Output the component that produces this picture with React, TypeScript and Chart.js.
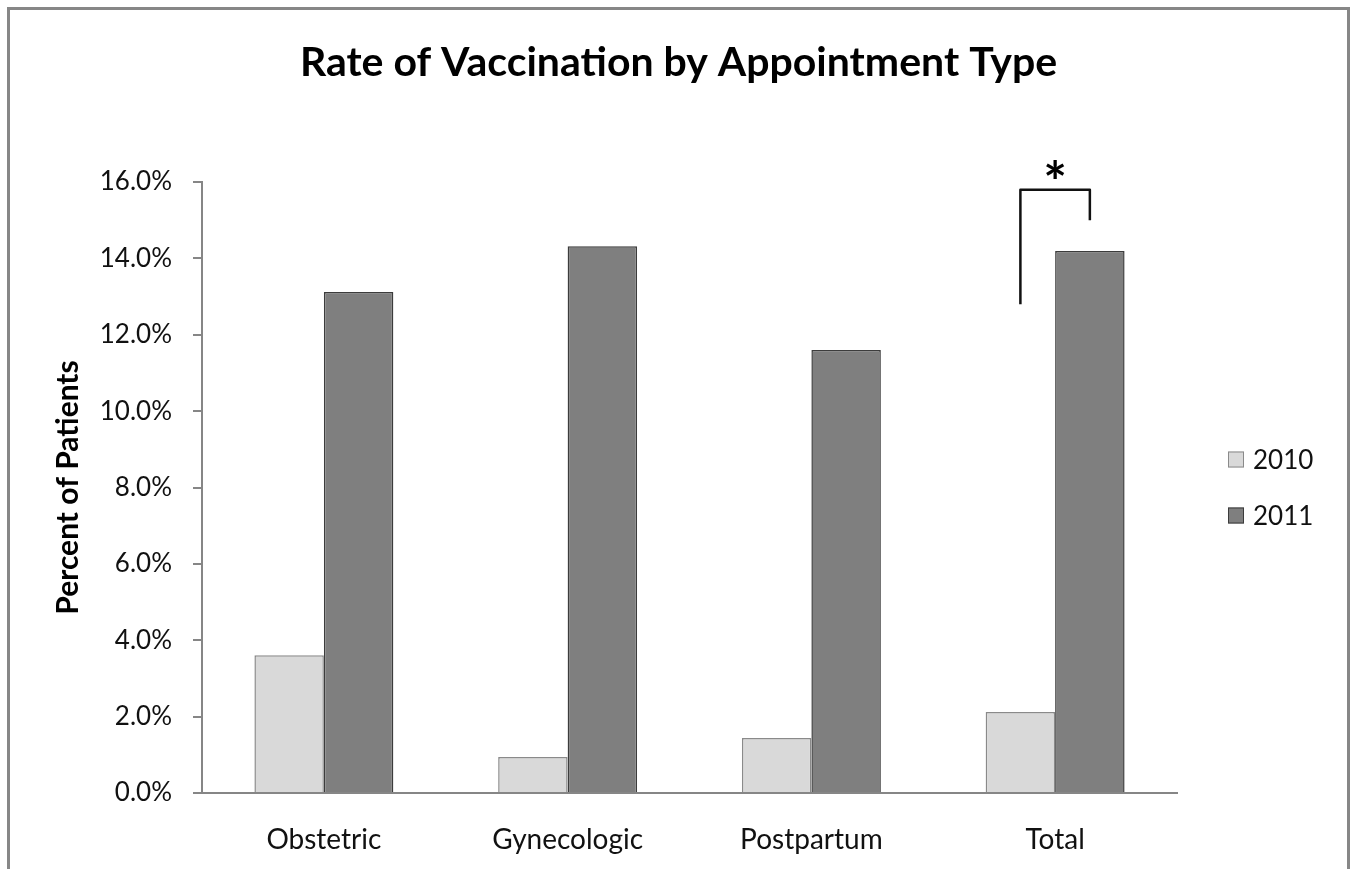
import React, { useEffect, useRef } from "react";
import { Chart, registerables } from "chart.js";

Chart.register(...registerables);

const categories = ["Obstetric", "Gynecologic", "Postpartum", "Total"];
const series2010 = [0.0361, 0.0094, 0.0144, 0.0212];
const series2011 = [0.1312, 0.1432, 0.116, 0.1419];
const seriesLabels = ["2010", "2011"];
const chartTitle = "Rate of Vaccination by Appointment Type";
const yAxisTitle = "Percent of Patients";
// significance bracket over "Total": [top, left end, right end] in axis units
const bracketCategoryIndex = 3;
const bracketLevels = [0.158, 0.128, 0.15];
const bracketMark = "*";

const FONT = "Lato, 'Open Sans', sans-serif";

const fill2010 = "#d9d9d9";
const border2010 = "#8a8a8a";
const fill2011 = "#7f7f7f";
const border2011 = "#3c3c3c";

const overlayPlugin = {
  id: "overlay",
  afterDraw(chart: any) {
    const { ctx, chartArea, scales, width } = chart;
    const y = scales.y;

    // title (centred on the whole canvas)
    ctx.save();
    ctx.fillStyle = "#000";
    ctx.font = `bold 41px ${FONT}`;
    ctx.textAlign = "center";
    ctx.textBaseline = "middle";
    ctx.fillText(chartTitle, width / 2, 53);
    ctx.restore();

    // bracket
    const m0 = chart.getDatasetMeta(0).data[bracketCategoryIndex];
    const m1 = chart.getDatasetMeta(1).data[bracketCategoryIndex];
    const x1 = m0.x;
    const x2 = m1.x;
    const yTop = y.getPixelForValue(bracketLevels[0]);
    const yL = y.getPixelForValue(bracketLevels[1]);
    const yR = y.getPixelForValue(bracketLevels[2]);
    ctx.save();
    ctx.strokeStyle = "#111";
    ctx.lineWidth = 2.5;
    ctx.lineJoin = "round";
    ctx.beginPath();
    ctx.moveTo(x1, yL);
    ctx.lineTo(x1, yTop);
    ctx.lineTo(x2, yTop);
    ctx.lineTo(x2, yR);
    ctx.stroke();
    ctx.fillStyle = "#000";
    ctx.font = `bold 56px ${FONT}`;
    ctx.textAlign = "center";
    ctx.textBaseline = "alphabetic";
    ctx.fillText(bracketMark, (x1 + x2) / 2, yTop + 12);
    ctx.restore();

    // legend
    const cx = chartArea.right + 51;
    const cy = (chartArea.top + chartArea.bottom) / 2;
    const items = [
      { label: seriesLabels[0], fill: fill2010, stroke: border2010 },
      { label: seriesLabels[1], fill: fill2011, stroke: border2011 },
    ];
    ctx.save();
    ctx.font = `26px ${FONT}`;
    ctx.textBaseline = "middle";
    ctx.textAlign = "left";
    items.forEach((it, i) => {
      const yy = cy - 28 + i * 56;
      ctx.fillStyle = it.fill;
      ctx.fillRect(cx, yy - 8, 16, 16);
      ctx.strokeStyle = it.stroke;
      ctx.lineWidth = 1;
      ctx.strokeRect(cx + 0.5, yy - 7.5, 15, 15);
      ctx.fillStyle = "#111";
      ctx.fillText(it.label, cx + 25, yy + 1);
    });
    ctx.restore();
  },
};

export default function App() {
  const ref = useRef<HTMLCanvasElement | null>(null);
  useEffect(() => {
    if (!ref.current) return;
    const chart = new Chart(ref.current, {
      type: "bar",
      data: {
        labels: categories,
        datasets: [
          {
            label: seriesLabels[0],
            data: series2010,
            backgroundColor: fill2010,
            borderColor: border2010,
            borderWidth: 1.5,
            categoryPercentage: 0.57,
            barPercentage: 1,
          },
          {
            label: seriesLabels[1],
            data: series2011,
            backgroundColor: fill2011,
            borderColor: border2011,
            borderWidth: 1.5,
            categoryPercentage: 0.57,
            barPercentage: 1,
          },
        ],
      },
      options: {
        responsive: false,
        animation: false,
        devicePixelRatio: 1,
        layout: { padding: { left: 0, right: 170, top: 172, bottom: 0 } },
        plugins: {
          legend: { display: false },
          tooltip: { enabled: false },
          title: { display: false },
        },
        scales: {
          x: {
            grid: { display: false },
            border: { display: true, color: "#868686", width: 2 },
            ticks: {
              color: "#111",
              font: { family: FONT, size: 28 },
              padding: 22,
            },
            afterFit(scale: any) {
              scale.height = 77;
            },
          },
          y: {
            min: 0,
            max: 0.16,
            grid: {
              display: true,
              drawOnChartArea: false,
              drawTicks: true,
              tickLength: 9,
              color: "#868686",
              lineWidth: 2,
            },
            border: { display: true, color: "#868686", width: 2 },
            ticks: {
              stepSize: 0.02,
              color: "#111",
              font: { family: FONT, size: 26 },
              padding: 21,
              callback: (v: any) => (Number(v) * 100).toFixed(1) + "%",
            },
            title: {
              display: true,
              text: yAxisTitle,
              color: "#000",
              font: { family: FONT, size: 30, weight: "bold" },
              padding: { top: 40, bottom: 0 },
            },
            afterFit(scale: any) {
              scale.width = 192;
            },
          },
        },
      },
      plugins: [overlayPlugin],
    } as any);
    return () => chart.destroy();
  }, []);

  return (
    <div
      style={{
        position: "absolute",
        left: 7,
        top: 7,
        width: 1337,
        height: 880,
        border: "3px solid #878787",
        borderBottom: "none",
        background: "#fff",
      }}
    >
      <canvas ref={ref} width={1337} height={860} style={{ display: "block" }} />
    </div>
  );
}
